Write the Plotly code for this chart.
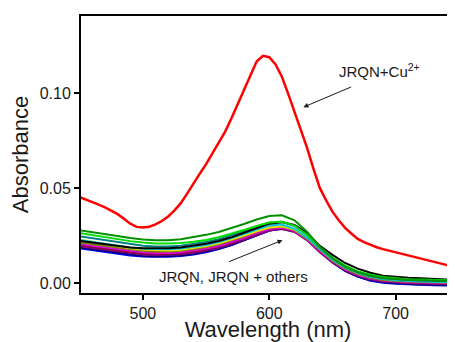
import plotly.graph_objects as go

# ---------------- data ----------------
wl = list(range(450, 751, 10))          # wavelengths for JRQN / JRQN + other ions
wl_cu = list(range(450, 751, 5))        # wavelengths for JRQN + Cu2+

cu = [0.0452, 0.0440, 0.0425, 0.0412, 0.0398, 0.0382, 0.0362, 0.0338, 0.0312, 0.0295,
      0.0292, 0.0296, 0.0308, 0.0326, 0.0350, 0.0382, 0.0420, 0.0470, 0.0525, 0.0575,
      0.0625, 0.0680, 0.0735, 0.0795, 0.0865, 0.0940, 0.1015, 0.1098, 0.1165, 0.1195,
      0.1188, 0.1150, 0.1085, 0.0995, 0.0900, 0.0805, 0.0710, 0.0600, 0.0500, 0.0435,
      0.0375, 0.0330, 0.0290, 0.0260, 0.0232, 0.0215, 0.0200, 0.0188, 0.0178, 0.0170,
      0.0162, 0.0155, 0.0147, 0.0138, 0.0130, 0.0122, 0.0113, 0.0105, 0.0095, 0.0084,
      0.0076]

green = [0.0277, 0.0268, 0.0257, 0.0247, 0.0236, 0.0228, 0.0224, 0.0225, 0.0230, 0.0240,
         0.0253, 0.0268, 0.0287, 0.0310, 0.0334, 0.0352, 0.0356, 0.0330, 0.0268, 0.0190,
         0.0130, 0.0086, 0.0057, 0.0038, 0.0026, 0.0020, 0.0016, 0.0014, 0.0011, 0.0010, 0.0009]
lime = [0.0262, 0.0251, 0.0240, 0.0229, 0.0220, 0.0213, 0.0208, 0.0207, 0.0210, 0.0217,
        0.0226, 0.0240, 0.0258, 0.0279, 0.0300, 0.0318, 0.0322, 0.0302, 0.0252, 0.0190,
        0.0134, 0.0091, 0.0062, 0.0043, 0.0031, 0.0024, 0.0020, 0.0018, 0.0016, 0.0014, 0.0012]
darkcyan = [0.0245, 0.0235, 0.0224, 0.0214, 0.0204, 0.0196, 0.0192, 0.0192, 0.0196, 0.0204,
            0.0215, 0.0230, 0.0249, 0.0272, 0.0296, 0.0317, 0.0322, 0.0300, 0.0252, 0.0188,
            0.0130, 0.0086, 0.0056, 0.0037, 0.0025, 0.0019, 0.0015, 0.0013, 0.0011, 0.0009, 0.0008]
black = [0.0222, 0.0213, 0.0204, 0.0195, 0.0187, 0.0183, 0.0181, 0.0182, 0.0187, 0.0195,
         0.0206, 0.0221, 0.0240, 0.0264, 0.0289, 0.0312, 0.0320, 0.0305, 0.0262, 0.0195,
         0.0148, 0.0105, 0.0075, 0.0054, 0.0038, 0.0031, 0.0027, 0.0025, 0.0023, 0.0018, 0.0013]
yellow = [0.0228, 0.0216, 0.0204, 0.0193, 0.0183, 0.0176, 0.0172, 0.0171, 0.0175, 0.0183,
          0.0194, 0.0209, 0.0227, 0.0249, 0.0272, 0.0292, 0.0298, 0.0282, 0.0240, 0.0182,
          0.0127, 0.0085, 0.0056, 0.0037, 0.0025, 0.0018, 0.0014, 0.0012, 0.0010, 0.0008, 0.0007]
cyan = [0.0225, 0.0215, 0.0205, 0.0195, 0.0186, 0.0180, 0.0177, 0.0177, 0.0181, 0.0189,
        0.0200, 0.0215, 0.0234, 0.0257, 0.0281, 0.0302, 0.0307, 0.0285, 0.0238, 0.0178,
        0.0122, 0.0080, 0.0052, 0.0032, 0.0020, 0.0014, 0.0010, 0.0008, 0.0006, 0.0004, 0.0003]
olive = [0.0213, 0.0204, 0.0194, 0.0184, 0.0175, 0.0169, 0.0166, 0.0166, 0.0170, 0.0178,
         0.0189, 0.0204, 0.0223, 0.0246, 0.0270, 0.0291, 0.0297, 0.0278, 0.0232, 0.0172,
         0.0117, 0.0075, 0.0047, 0.0028, 0.0016, 0.0010, 0.0007, 0.0005, 0.0003, 0.0002, 0.0001]
magenta = [0.0205, 0.0196, 0.0186, 0.0176, 0.0167, 0.0161, 0.0158, 0.0158, 0.0162, 0.0170,
           0.0181, 0.0196, 0.0215, 0.0238, 0.0262, 0.0284, 0.0291, 0.0273, 0.0228, 0.0168,
           0.0114, 0.0072, 0.0043, 0.0025, 0.0013, 0.0007, 0.0004, 0.0002, 0.0000, -0.0001, -0.0002]
wine = [0.0200, 0.0190, 0.0180, 0.0170, 0.0161, 0.0155, 0.0152, 0.0152, 0.0156, 0.0164,
        0.0176, 0.0192, 0.0212, 0.0236, 0.0261, 0.0283, 0.0289, 0.0272, 0.0228, 0.0166,
        0.0112, 0.0070, 0.0041, 0.0023, 0.0011, 0.0005, 0.0002, 0.0000, -0.0002, -0.0003, -0.0004]
purple = [0.0193, 0.0184, 0.0174, 0.0164, 0.0155, 0.0149, 0.0146, 0.0147, 0.0151, 0.0159,
          0.0170, 0.0185, 0.0204, 0.0228, 0.0253, 0.0276, 0.0284, 0.0268, 0.0224, 0.0162,
          0.0108, 0.0066, 0.0037, 0.0019, 0.0008, 0.0002, -0.0001, -0.0003, -0.0005, -0.0006, -0.0007]
navy = [0.0186, 0.0177, 0.0167, 0.0157, 0.0148, 0.0142, 0.0139, 0.0140, 0.0144, 0.0152,
        0.0164, 0.0180, 0.0200, 0.0225, 0.0252, 0.0276, 0.0285, 0.0271, 0.0228, 0.0165,
        0.0108, 0.0064, 0.0034, 0.0015, 0.0004, -0.0002, -0.0006, -0.0008, -0.0010, -0.0012, -0.0013]
blue = [0.0182, 0.0172, 0.0162, 0.0152, 0.0144, 0.0139, 0.0137, 0.0138, 0.0142, 0.0150,
        0.0162, 0.0178, 0.0199, 0.0224, 0.0251, 0.0276, 0.0288, 0.0276, 0.0234, 0.0170,
        0.0110, 0.0064, 0.0033, 0.0012, 0.0001, -0.0004, -0.0008, -0.0010, -0.0012, -0.0014, -0.0016]

others = [
    ("JRQN + ion 1", blue, "#0000ff"),
    ("JRQN + ion 2", navy, "#000080"),
    ("JRQN + ion 3", purple, "#800080"),
    ("JRQN + ion 4", wine, "#8b0040"),
    ("JRQN + ion 5", magenta, "#e000e0"),
    ("JRQN + ion 6", olive, "#808000"),
    ("JRQN + ion 7", yellow, "#f0e000"),
    ("JRQN + ion 8", cyan, "#00c8e0"),
    ("JRQN + ion 9", darkcyan, "#008080"),
    ("JRQN", black, "#000000"),
    ("JRQN + ion 10", lime, "#00dd00"),
    ("JRQN + ion 11", green, "#009000"),
]

x_ticks = [500, 600, 700]
y_ticks = [0.00, 0.05, 0.10]
y_tick_text = ["0.00", "0.05", "0.10"]

# ---------------- figure ----------------
fig = go.Figure()
for name, vals, col in others:
    fig.add_trace(go.Scatter(x=wl, y=vals, mode="lines", name=name,
                             line=dict(color=col, width=2)))
fig.add_trace(go.Scatter(x=wl_cu, y=cu, mode="lines", name="JRQN+Cu2+",
                         line=dict(color="#ff0000", width=2.5)))

font_fam = "Liberation Sans, Arial, sans-serif"

# the page body adds an 8px offset, so the figure is sized to fill the rest
fig.update_layout(
    width=447, height=334,
    margin=dict(l=73, r=0, t=8, b=49),
    paper_bgcolor="white", plot_bgcolor="white",
    showlegend=False,
    font=dict(family=font_fam, color="#1a1a1a", size=16),
    xaxis=dict(range=[451, 747], tickvals=x_ticks, ticks="outside", ticklen=5,
               tickwidth=1.5, tickcolor="black", showline=True, linecolor="black",
               linewidth=2, mirror=True, showgrid=False, zeroline=False,
               automargin=False,
               tickfont=dict(size=16, color="#1a1a1a"),
               title=dict(text="Wavelength (nm)", font=dict(size=22, color="#1a1a1a"),
                          standoff=0)),
    yaxis=dict(range=[-0.0053, 0.1405], tickvals=y_ticks, ticktext=y_tick_text,
               ticks="outside", ticklen=5, tickwidth=1.5, tickcolor="black",
               showline=True, linecolor="black", linewidth=2, mirror=False,
               showgrid=False, zeroline=False, automargin=False,
               tickfont=dict(size=16, color="#1a1a1a"),
               title=dict(text="Absorbance", font=dict(size=22, color="#1a1a1a"),
                          standoff=6)),
)

# annotations
fig.add_annotation(x=687, y=0.112, xref="x", yref="y",
                   text="JRQN+Cu<sup>2+</sup>", showarrow=False,
                   font=dict(size=15, color="#1a1a1a", family=font_fam))
fig.add_annotation(x=627, y=0.0925, ax=666, ay=0.1035, xref="x", yref="y",
                   axref="x", ayref="y", text="", showarrow=True,
                   arrowhead=2, arrowsize=1, arrowwidth=1, arrowcolor="#1a1a1a")
fig.add_annotation(x=572, y=0.0032, xref="x", yref="y",
                   text="JRQN, JRQN + others", showarrow=False,
                   font=dict(size=15, color="#1a1a1a", family=font_fam))
fig.add_annotation(x=610.5, y=0.0225, ax=567, ay=0.0109, xref="x", yref="y",
                   axref="x", ayref="y", text="", showarrow=True,
                   arrowhead=2, arrowsize=1, arrowwidth=1, arrowcolor="#1a1a1a")

fig.write_html("out.html")
